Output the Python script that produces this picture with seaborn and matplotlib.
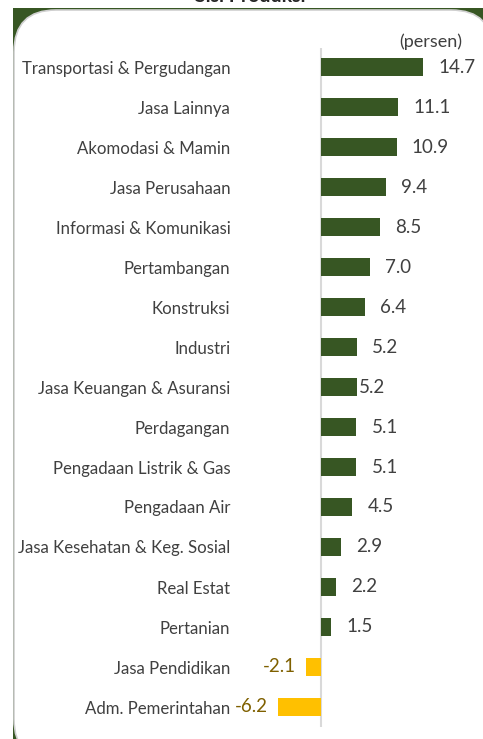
import numpy as np
import pandas as pd
import seaborn as sns
import matplotlib.pyplot as plt
from matplotlib.patches import FancyBboxPatch, Rectangle

##Data
sektor = ["Transportasi & Pergudangan", "Jasa Lainnya", "Akomodasi & Mamin",
          "Jasa Perusahaan", "Informasi & Komunikasi", "Pertambangan",
          "Konstruksi", "Industri", "Jasa Keuangan & Asuransi", "Perdagangan",
          "Pengadaan Listrik & Gas", "Pengadaan Air",
          "Jasa Kesehatan & Keg. Sosial", "Real Estat", "Pertanian",
          "Jasa Pendidikan", "Adm. Pemerintahan"]
pertumbuhan = [14.7, 11.1, 10.9, 9.4, 8.5, 7.0, 6.4, 5.2, 5.2, 5.1, 5.1, 4.5,
               2.9, 2.2, 1.5, -2.1, -6.2]

df = pd.DataFrame({"sektor": sektor, "nilai": pertumbuhan})

hijau = "#375623"
kuning = "#FFC000"
warna = [hijau if v >= 0 else kuning for v in pertumbuhan]

sns.set_style("white")
plt.rcParams["font.family"] = ["Lato", "DejaVu Sans"]

W, H = 483, 739
fig = plt.figure(figsize=(W / 100, H / 100), dpi=100)
fig.patch.set_facecolor("white")

##Background frame in pixel coordinates (green corners + white rounded panel)
bg = fig.add_axes([0, 0, 1, 1])
bg.set_xlim(0, W)
bg.set_ylim(H, 0)
bg.axis("off")
bg.add_patch(Rectangle((13, 8), W, H, facecolor=hijau, edgecolor="none"))
bg.add_patch(FancyBboxPatch((14, 10), 479, H + 12,
                            boxstyle="round,pad=0,rounding_size=42",
                            facecolor="white", edgecolor="#d0d0d0", linewidth=1.2))
bg.text(250, -3, "Sisi Produksi", ha="center", va="center",
        fontsize=14, fontweight="bold", color="#262626")

##Axes placement in pixels
left, right, top, bottom = 240, 470, 48, 727
ax = fig.add_axes([left / W, 1 - bottom / H, (right - left) / W, (bottom - top) / H])
ax.set_facecolor("none")

scale = 6.95
x0 = 321
ax.set_xlim((left - x0) / scale, (right - x0) / scale)

sns.barplot(data=df, x="nilai", y="sektor", hue="sektor", palette=warna,
            orient="h", width=0.45, legend=False, ax=ax, saturation=1,
            linewidth=0)
ax.set_ylim(len(sektor) - 0.5, -0.475)

ax.axvline(0, color="#d9d9d9", linewidth=1.5, zorder=0)
for s in ax.spines.values():
    s.set_visible(False)
ax.set_xticks([])
ax.set_xlabel("")
ax.set_ylabel("")
ax.tick_params(axis="y", length=0, pad=7, labelsize=12.1, labelcolor="#404040")

##Value labels
for i, v in enumerate(pertumbuhan):
    if v >= 0:
        off = 1.5 if sektor[i] == "Jasa Keuangan & Asuransi" else 15
        ax.annotate(f"{v:.1f}", (v, i), xytext=(off, 0), textcoords="offset pixels",
                    ha="left", va="center", fontsize=13.5, color="#404040")
    else:
        ax.annotate(f"{v:.1f}", (v, i), xytext=(-10, 0), textcoords="offset pixels",
                    ha="right", va="center", fontsize=13.5, color="#7F6000")

fig.text(462 / W, 1 - 42 / H, "(persen)", ha="right", va="center",
         fontsize=13, color="#404040")

fig.savefig("out.png", dpi=100)
